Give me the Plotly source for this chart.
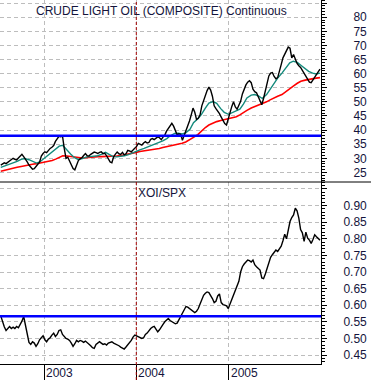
import pandas as pd
import plotly.graph_objects as go

# ---------------- data ----------------
week_start = "2002-07-12"
n_weeks = 182
crude = [
    27.6, 28.0, 28.4, 28.1, 28.6, 29.3, 29.8, 30.0, 29.6, 29.4,
    30.1, 30.7, 31.4, 30.6, 29.8, 28.7, 27.6, 26.8, 26.1, 26.3,
    27.3, 27.9, 28.6, 30.8, 31.7, 32.3, 32.0, 33.0, 33.5, 33.9,
    34.5, 36.0, 37.1, 37.8, 37.6, 37.9, 33.5, 30.0, 30.4, 29.2,
    27.8, 26.4, 25.9, 27.4, 29.2, 29.8, 30.2, 31.0, 31.7, 30.9,
    30.8, 31.4, 31.9, 32.2, 32.0, 31.7, 32.1, 32.3, 31.6, 31.8,
    30.9, 30.0, 28.7, 28.4, 30.5, 31.5, 32.2, 31.6, 31.4, 32.1,
    31.2, 31.6, 32.8, 32.6, 32.3, 32.9, 33.5, 34.2, 35.3, 35.0,
    34.7, 35.4, 35.9, 35.4, 35.6, 36.7, 37.0, 36.6, 37.2, 37.6,
    37.3, 36.6, 37.5, 38.2, 39.6, 40.6, 41.6, 42.4, 41.4, 39.8,
    38.3, 38.7, 38.5, 36.4, 38.0, 39.6, 41.2, 43.2, 45.4, 47.8,
    46.3, 43.8, 44.2, 45.4, 48.6, 50.5, 52.2, 54.0, 55.2, 54.2,
    52.0, 48.6, 47.6, 46.8, 45.8, 44.6, 43.2, 42.3, 41.8, 44.3,
    46.5, 48.4, 50.0, 48.2, 47.4, 48.6, 50.2, 52.8, 54.8, 56.0,
    57.0, 57.5, 56.8, 54.5, 53.6, 53.2, 51.8, 50.6, 49.0, 51.2,
    53.8, 57.0, 59.2, 60.2, 60.4, 59.0, 58.2, 58.6, 60.6, 63.2,
    65.6, 66.8, 68.2, 69.4, 69.0, 65.6, 66.8, 65.0, 63.6, 62.8,
    62.2, 61.2, 60.2, 59.0, 58.2, 57.0, 56.8, 57.8, 58.6, 59.4,
    60.4, 61.6,
]
xoi_spx = [
    0.568, 0.548, 0.535, 0.524, 0.532, 0.536, 0.530, 0.534, 0.530, 0.536,
    0.532, 0.540, 0.552, 0.566, 0.538, 0.505, 0.488, 0.482, 0.490, 0.486,
    0.476, 0.484, 0.496, 0.502, 0.508, 0.496, 0.490, 0.498, 0.502, 0.510,
    0.516, 0.506, 0.512, 0.524, 0.526, 0.512, 0.504, 0.500, 0.498, 0.494,
    0.486, 0.476, 0.484, 0.494, 0.490, 0.494, 0.492, 0.488, 0.492, 0.488,
    0.482, 0.478, 0.472, 0.470, 0.482, 0.486, 0.490, 0.486, 0.482, 0.484,
    0.480, 0.486, 0.488, 0.490, 0.486, 0.484, 0.482, 0.478, 0.474, 0.470,
    0.468, 0.474, 0.480, 0.488, 0.494, 0.504, 0.510, 0.508, 0.506, 0.504,
    0.500, 0.502, 0.512, 0.516, 0.524, 0.530, 0.534, 0.536, 0.528, 0.520,
    0.526, 0.536, 0.542, 0.550, 0.556, 0.560, 0.554, 0.550, 0.548, 0.544,
    0.546, 0.556, 0.570, 0.580, 0.588, 0.596, 0.594, 0.590, 0.588, 0.584,
    0.578, 0.582, 0.590, 0.604, 0.616, 0.630, 0.636, 0.640, 0.638, 0.630,
    0.620, 0.608, 0.612, 0.628, 0.634, 0.608, 0.602, 0.600, 0.598, 0.590,
    0.604, 0.616, 0.628, 0.642, 0.660, 0.672, 0.700, 0.716, 0.724, 0.730,
    0.736, 0.734, 0.730, 0.736, 0.722, 0.716, 0.712, 0.706, 0.682, 0.680,
    0.694, 0.712, 0.730, 0.744, 0.752, 0.760, 0.766, 0.762, 0.770, 0.778,
    0.794, 0.814, 0.800, 0.830, 0.852, 0.864, 0.872, 0.892, 0.884, 0.862,
    0.828, 0.818, 0.792, 0.820, 0.802, 0.796, 0.786, 0.798, 0.812, 0.806,
    0.800, 0.796,
]
ma_short = [
    26.8,
    27.4, 28.0, 28.3, 28.9, 29.6, 29.9, 29.5, 28.8, 28.3, 28.8,
    30.0, 31.0, 32.2, 33.3, 34.3, 34.6, 32.8, 31.5, 30.2, 29.6, 29.9, 30.4,
    30.6, 30.8, 30.9, 31.4, 32.1, 31.4, 30.6, 30.5, 30.6, 30.9, 31.3, 31.9,
    32.5, 33.0, 33.5, 34.0, 34.6, 35.1, 35.8, 36.2, 37.0, 38.0, 38.8, 38.9,
    38.6, 39.0, 40.3, 42.6, 44.0, 45.5, 47.8, 49.6, 50.1, 49.5, 47.6, 46.3,
    45.6, 46.2, 46.8, 47.4, 49.2, 51.4, 52.4, 52.6, 52.0, 51.2, 52.6, 54.6,
    56.6, 58.4, 60.2, 62.0, 63.8, 64.4, 64.0, 63.0, 61.7, 60.8, 60.2, 59.9,
    60.2,
]
ma_long = [
    25.4,
    25.9, 26.2, 26.5, 26.8, 27.1, 27.4, 27.7, 27.9, 28.1, 28.3,
    28.5, 28.8, 29.2, 29.7, 30.4, 30.9, 30.8, 30.6, 30.4, 30.2, 30.1, 30.2,
    30.4, 30.5, 30.6, 30.6, 30.6, 30.6, 30.6, 30.8, 31.0, 31.2, 31.4, 31.7,
    32.1, 32.4, 32.6, 32.8, 33.1, 33.3, 33.5, 33.8, 34.1, 34.4, 34.7, 35.0,
    35.3, 35.8, 36.6, 37.4, 38.4, 39.6, 40.9, 41.8, 42.6, 43.0, 43.4, 43.7,
    44.0, 44.3, 44.7, 45.4, 46.3, 47.0, 47.8, 48.3, 48.8, 49.3, 50.0, 50.7,
    51.5, 52.0, 52.6, 53.6, 54.8, 55.6, 56.6, 57.3, 57.7, 58.0, 58.2, 58.4,
    58.6,
]
crude_level = 38.0
ratio_level = 0.567
marker_date = "2004-01-01"
year_ticks = ["2003-01-01", "2004-01-01", "2005-01-01"]
year_labels = ["2003", "2004", "2005"]
crude_ticks = [25, 30, 35, 40, 45, 50, 55, 60, 65, 70, 75, 80, 85]
crude_ticktext = ["25", "30", "35", "40", "45", "50", "55", "60", "65", "70", "75", "80", ""]
ratio_ticks = [0.45, 0.50, 0.55, 0.60, 0.65, 0.70, 0.75, 0.80, 0.85, 0.90, 0.95]
ratio_ticktext = ["0.45", "0.50", "0.55", "0.60", "0.65", "0.70", "0.75", "0.80", "0.85", "0.90", ""]
title_top = "CRUDE LIGHT OIL (COMPOSITE) Continuous"
title_bottom = "XOI/SPX"

weeks = pd.date_range(week_start, periods=n_weeks, freq="7D")
ma_dates = [pd.Timestamp(week_start)]
for yr in range(2002, 2006):
    for mo in range(1, 13):
        if yr == 2002 and mo < 8:
            continue
        for dd in (1, 15):
            ma_dates.append(pd.Timestamp(yr, mo, dd))
ma_dates.append(weeks[-1])

# ---------------- figure ----------------
TXT = "#14143c"
FONT = "Arial, Liberation Sans, sans-serif"
GRID = "#bdbdbd"
xr = ["2002-07-09", "2006-01-03"]

fig = go.Figure()
fig.add_trace(go.Scatter(x=ma_dates, y=ma_long, mode="lines", line=dict(color="#ff0000", width=1.6),
                         xaxis="x", yaxis="y", hoverinfo="skip"))
fig.add_trace(go.Scatter(x=ma_dates, y=ma_short, mode="lines", line=dict(color="#138a7c", width=1.4),
                         xaxis="x", yaxis="y", hoverinfo="skip"))
fig.add_trace(go.Scatter(x=weeks, y=crude, mode="lines", line=dict(color="#000000", width=1.4),
                         xaxis="x", yaxis="y"))
fig.add_trace(go.Scatter(x=weeks, y=xoi_spx, mode="lines", line=dict(color="#000000", width=1.4),
                         xaxis="x2", yaxis="y2"))
fig.add_trace(go.Scatter(x=xr, y=[crude_level, crude_level], mode="lines",
                         line=dict(color="#0000ff", width=2.6), xaxis="x", yaxis="y"))
fig.add_trace(go.Scatter(x=xr, y=[ratio_level, ratio_level], mode="lines",
                         line=dict(color="#0000ff", width=2.6), xaxis="x2", yaxis="y2"))

xcommon = dict(type="date", range=xr, tickvals=year_ticks, showgrid=True, gridcolor=GRID,
               griddash="4px,3px", gridwidth=1, zeroline=False, showticklabels=False)
ycommon = dict(side="right", showgrid=True, gridcolor=GRID, griddash="4px,3px", gridwidth=1,
               zeroline=False, showline=True, linecolor="#000000", linewidth=1,
               ticks="outside", ticklen=5, tickcolor="#000000",
               tickfont=dict(family=FONT, size=12, color=TXT))

fig.update_layout(
    width=371, height=380, autosize=False,
    margin=dict(l=0, r=50, t=0, b=16, pad=0),
    paper_bgcolor="white", plot_bgcolor="white", showlegend=False,
    xaxis=dict(**xcommon, anchor="y", domain=[0, 1], ticks=""),
    xaxis2=dict(**xcommon, anchor="y2", domain=[0, 1], ticks="outside", ticklen=16,
                tickcolor="#000000", showline=True, linecolor="#000000", linewidth=1),
    yaxis=dict(**ycommon, domain=[0.5, 1], range=[21.6, 86.1], tickvals=crude_ticks,
               ticktext=crude_ticktext, ticklabelstandoff=24,
               minor=dict(dtick=1, ticks="outside", ticklen=3, tickcolor="#000000", showgrid=False)),
    yaxis2=dict(**ycommon, domain=[0, 0.5], range=[0.423, 0.971], tickvals=ratio_ticks,
                ticktext=ratio_ticktext, ticklabelstandoff=14,
                minor=dict(dtick=0.01, ticks="outside", ticklen=3, tickcolor="#000000", showgrid=False)),
)

# separator line across the full width
fig.add_shape(type="line", xref="paper", yref="paper", x0=0, x1=371 / 321, y0=0.5, y1=0.5,
              line=dict(color="#000000", width=1))
# red dashed date marker
fig.add_shape(type="line", xref="x2", yref="paper", x0=marker_date, x1=marker_date,
              y0=-16 / 364, y1=1, line=dict(color="#a00000", width=1, dash="3px,2px"))

fig.add_annotation(text=title_top, xref="paper", yref="paper", x=34 / 321, y=1 - 10.5 / 364,
                   xanchor="left", yanchor="middle", showarrow=False,
                   font=dict(family=FONT, size=12, color=TXT))
fig.add_annotation(text=title_bottom, xref="paper", yref="paper", x=136 / 321, y=1 - 192.5 / 364,
                   xanchor="left", yanchor="middle", showarrow=False,
                   font=dict(family=FONT, size=12, color=TXT))
for d, lab in zip(year_ticks, year_labels):
    fig.add_annotation(text=lab, xref="x2", yref="paper", x=d, y=-9.5 / 364,
                       xanchor="left", yanchor="middle", showarrow=False, xshift=0,
                       font=dict(family=FONT, size=12, color=TXT))

fig.write_html("out.html", config={"displayModeBar": False, "staticPlot": True},
               post_script="document.body.style.margin='0';document.body.style.overflow='hidden';")
